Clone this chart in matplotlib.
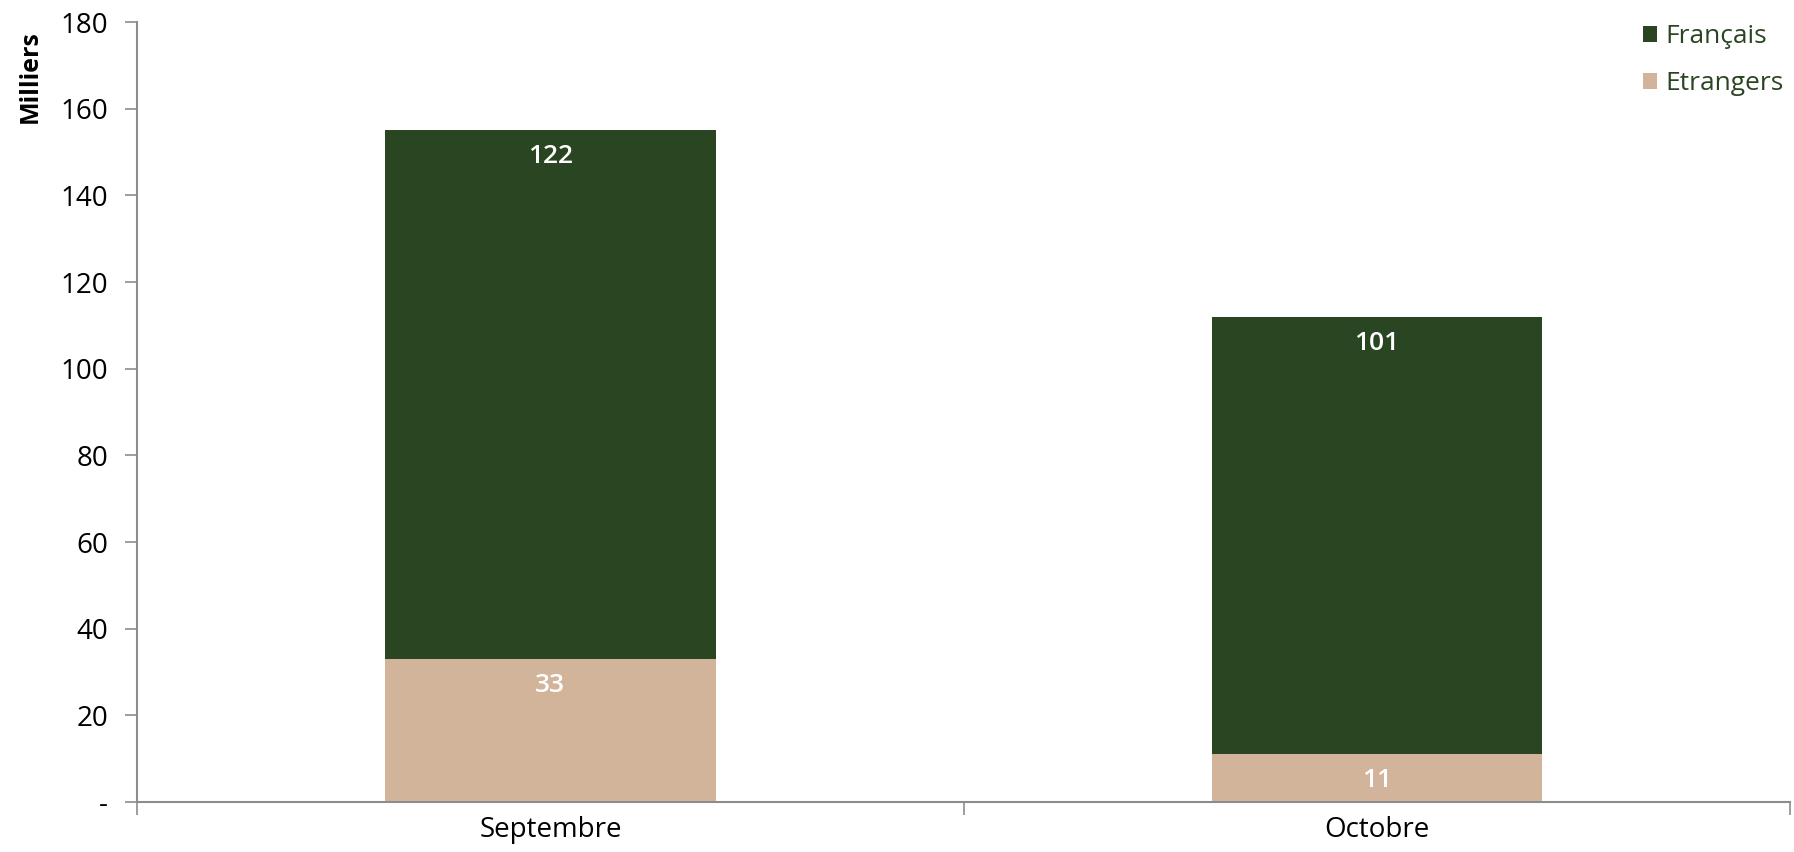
import numpy as np
import matplotlib.pyplot as plt
from matplotlib.ticker import FixedLocator

plt.rcParams['font.family'] = ['Open Sans', 'DejaVu Sans']

mois = ['Septembre', 'Octobre']
etrangers = [33, 11]
francais = [122, 101]

vert = '#2a4521'
beige = '#d1b49a'
gris = '#8c8c8c'

fig = plt.figure(figsize=(17.94, 8.52), dpi=100)
ax = fig.add_axes([0.0764, 0.0587, 0.9216, 0.9153])

x = np.arange(len(mois))
w = 0.4
b1 = ax.bar(x, etrangers, w, color=beige, label='Etrangers')
b2 = ax.bar(x, francais, w, bottom=etrangers, color=vert, label='Français')

for rect, v in zip(b1, etrangers):
    ax.text(rect.get_x() + rect.get_width() / 2, rect.get_y() + rect.get_height() - 3.2,
            str(v), ha='center', va='top', color='white', fontsize=19, fontweight='semibold')
for rect, v in zip(b2, francais):
    ax.text(rect.get_x() + rect.get_width() / 2, rect.get_y() + rect.get_height() - 3.2,
            str(v), ha='center', va='top', color='white', fontsize=19, fontweight='semibold')

ax.set_xlim(-0.5, 1.5)
ax.set_ylim(0, 180)
ax.set_yticks(range(0, 181, 20))
ax.set_yticklabels(['-'] + [str(v) for v in range(20, 181, 20)])
ax.set_xticks(x)
ax.set_xticklabels(mois)
ax.xaxis.set_minor_locator(FixedLocator([-0.5, 0.5, 1.5]))
ax.tick_params(axis='x', which='major', length=0, pad=10, labelsize=20)
ax.tick_params(axis='x', which='minor', length=9, color=gris, width=1.2)
ax.tick_params(axis='y', length=9, color=gris, width=1.2, labelsize=20, pad=12)

for s in ['top', 'right']:
    ax.spines[s].set_visible(False)
for s in ['left', 'bottom']:
    ax.spines[s].set_color(gris)
    ax.spines[s].set_linewidth(1.5)

ax.set_ylabel('Milliers', fontsize=18, fontweight='bold')
ax.yaxis.set_label_coords(-0.057, 0.93)

h, l = ax.get_legend_handles_labels()
leg = ax.legend(h[::-1], l[::-1], loc='upper right', bbox_to_anchor=(1.01, 1.028),
                frameon=False, fontsize=19, handlelength=0.55, handleheight=0.55,
                handletextpad=0.3, labelspacing=0.85, labelcolor=vert)

fig.savefig('out.png', dpi=100)
